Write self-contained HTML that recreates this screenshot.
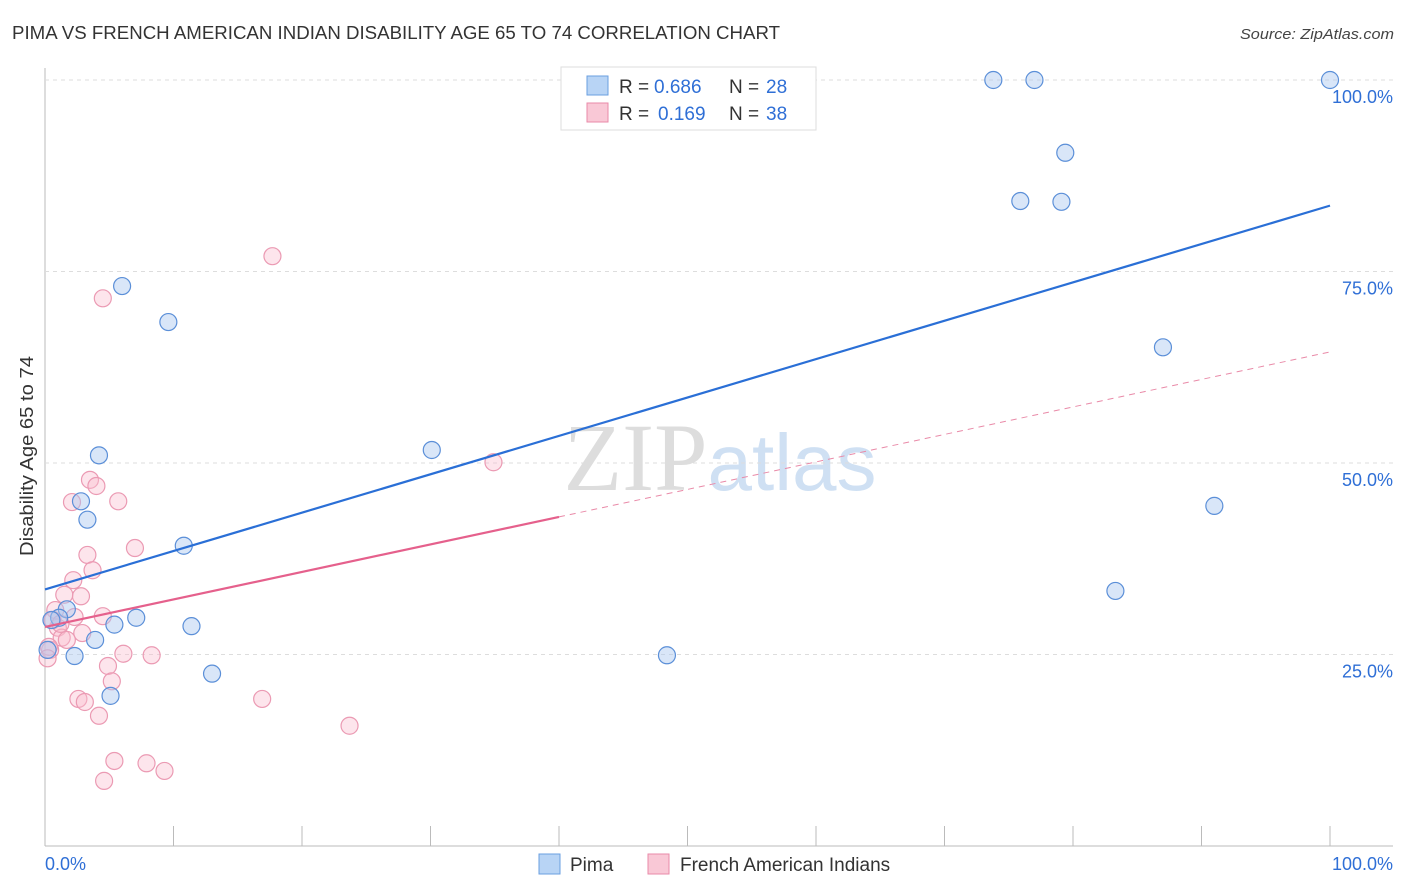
<!DOCTYPE html>
<html><head><meta charset="utf-8"><style>
body{margin:0;background:#fff;font-family:"Liberation Sans",sans-serif}
</style></head><body>
<svg id="c" width="1406" height="892" xmlns="http://www.w3.org/2000/svg" style="display:block">
<text x="12" y="39" font-size="18" fill="#333" textLength="768" lengthAdjust="spacingAndGlyphs">PIMA VS FRENCH AMERICAN INDIAN DISABILITY AGE 65 TO 74 CORRELATION CHART</text>
<text x="1240" y="39" font-size="15" fill="#444" textLength="154" lengthAdjust="spacingAndGlyphs" font-style="italic">Source: ZipAtlas.com</text>
<text x="720" y="490" font-size="96" fill="#ddd" text-anchor="middle" font-family="Liberation Serif,serif">ZIP<tspan fill="#cfe0f3" font-family="Liberation Sans,sans-serif" font-size="80">atlas</tspan></text>
<text transform="translate(33,456) rotate(-90)" font-size="18" fill="#333" text-anchor="middle" textLength="200" lengthAdjust="spacingAndGlyphs">Disability Age 65 to 74</text>
<g id="grid"></g><g id="pts"></g><g id="lines"></g>
<g>
<rect x="561" y="67" width="255" height="63" fill="#fff" stroke="#ddd"/>
<rect x="587" y="76" width="21" height="19" fill="#b8d4f5" stroke="#6a9fe0"/>
<rect x="587" y="103" width="21" height="19" fill="#f9c8d6" stroke="#e98aa8"/>
<text x="619" y="93" font-size="19" fill="#333">R =</text>
<text x="654" y="93" font-size="19" fill="#2f6fd6">0.686</text>
<text x="729" y="93" font-size="19" fill="#333">N =</text>
<text x="766" y="93" font-size="19" fill="#2f6fd6">28</text>
<text x="619" y="120" font-size="19" fill="#333">R =</text>
<text x="658" y="120" font-size="19" fill="#2f6fd6">0.169</text>
<text x="729" y="120" font-size="19" fill="#333">N =</text>
<text x="766" y="120" font-size="19" fill="#2f6fd6">38</text>
</g>
<g>
<rect x="539" y="854" width="21" height="20" fill="#b8d4f5" stroke="#6a9fe0"/>
<text x="570" y="871" font-size="19" fill="#333">Pima</text>
<rect x="648" y="854" width="21" height="20" fill="#f9c8d6" stroke="#e98aa8"/>
<text x="680" y="871" font-size="19" fill="#333">French American Indians</text>
</g>
<text x="45" y="870" font-size="18" fill="#2f6fd6">0.0%</text>
<text x="1393" y="870" font-size="18" fill="#2f6fd6" text-anchor="end">100.0%</text>
</svg>
<script>
const yTicks=[25,50,75,100];
const yTickLabels=["25.0%","50.0%","75.0%","100.0%"];
const pimaX=[73.8,77.0,100,79.4,75.9,79.1,87.0,91.0,83.3,48.4,30.1,6.0,9.6,4.2,2.8,3.3,10.8,7.1,5.4,11.4,3.9,2.3,13.0,5.1,1.7,1.1,0.5,0.2];
const pimaY=[100,100,100,90.5,84.2,84.1,65.1,44.4,33.3,24.9,51.7,73.1,68.4,51.0,45.0,42.6,39.2,29.8,28.9,28.7,26.9,24.8,22.5,19.6,30.9,29.8,29.5,25.6];
const frX=[17.7,4.5,34.9,3.5,4.0,2.1,5.7,7.0,3.3,3.7,2.2,2.8,1.5,0.8,4.5,2.3,2.9,1.0,1.3,1.7,6.1,8.3,4.9,5.2,2.6,3.1,16.9,4.2,23.7,5.4,7.9,9.3,4.6,0.4,0.6,0.3,1.2,0.2];
const frY=[77.0,71.5,50.1,47.8,47.0,44.9,45.0,38.9,38.0,36.0,34.7,32.6,32.8,30.8,30.0,29.9,27.8,28.5,27.2,26.9,25.1,24.9,23.5,21.5,19.2,18.8,19.2,17.0,15.7,11.1,10.8,9.8,8.5,25.6,29.5,26.0,29.0,24.5];
const pimaFit=[33.5,83.6];
const frFit=[28.6,64.5];
const X=v=>45+v*12.85, Y=v=>846-v*7.66;
const NS="http://www.w3.org/2000/svg";
function mk(t,a,p){const e=document.createElementNS(NS,t);for(const k in a)e.setAttribute(k,a[k]);p.appendChild(e);return e;}
const g=document.getElementById('grid');
mk('line',{x1:45,y1:68,x2:45,y2:846,stroke:'#bbb'},g);
mk('line',{x1:45,y1:846,x2:1393,y2:846,stroke:'#bbb'},g);
for(let i=1;i<=10;i++){const t=mk('line',{x1:X(i*10),y1:826,x2:X(i*10),y2:846,stroke:'#bbb'},g);

}
yTicks.forEach((v,i)=>{const l=mk('line',{x1:45,y1:Y(v),x2:1393,y2:Y(v),stroke:'#ddd','stroke-dasharray':'4 4'},g);


const t=mk('text',{x:1393,y:Y(v)+23,'font-size':18,fill:'#2f6fd6','text-anchor':'end'},g);t.textContent=yTickLabels[i];

});
const p=document.getElementById('pts');
frX.forEach((x,i)=>{const c=mk('circle',{cx:X(x),cy:Y(frY[i]),r:8.5,fill:'rgba(249,190,208,0.4)',stroke:'#eb9ab3','stroke-width':1.2},p);

});
pimaX.forEach((x,i)=>{const c=mk('circle',{cx:X(x),cy:Y(pimaY[i]),r:8.5,fill:'rgba(170,200,240,0.45)',stroke:'#5b8fd8','stroke-width':1.2},p);

});
const L=document.getElementById('lines');
const bl=mk('line',{x1:X(0),y1:Y(pimaFit[0]),x2:X(100),y2:Y(pimaFit[1]),stroke:'#2a6fd6','stroke-width':2.2},L);


const fy=v=>frFit[0]+(frFit[1]-frFit[0])*v/100;
const pl=mk('line',{x1:X(0),y1:Y(fy(0)),x2:X(40),y2:Y(fy(40)),stroke:'#e5608c','stroke-width':2.2},L);


const pd=mk('line',{x1:X(40),y1:Y(fy(40)),x2:X(100),y2:Y(fy(100)),stroke:'#e98aa8','stroke-width':1,'stroke-dasharray':'6 5'},L);


</script>
</body></html>
